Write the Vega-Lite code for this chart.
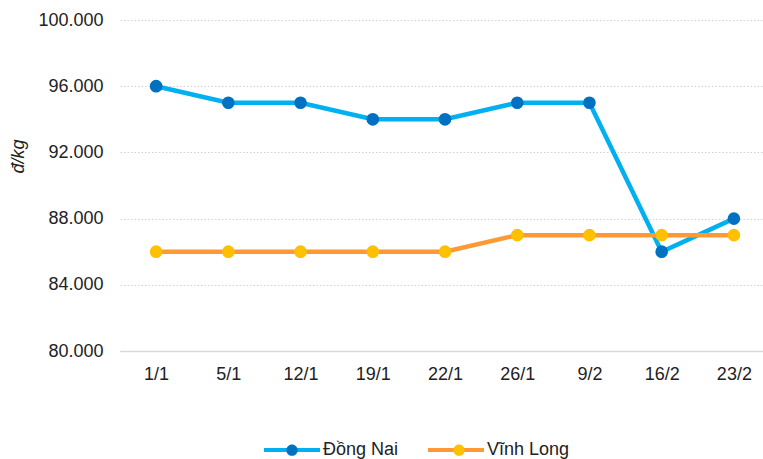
{
  "$schema": "https://vega.github.io/schema/vega-lite/v6.json",
  "autosize": "none",
  "width": 650,
  "height": 331,
  "padding": {"left": 120, "top": 20, "right": 0, "bottom": 108},
  "background": "white",
  "config": {
    "locale": {"number": {"decimal": ",", "thousands": ".", "grouping": [3], "currency": ["", "đ"]}},
    "font": "Liberation Sans",
    "view": {"stroke": null}
  },
  "data": {
    "values": [
      {"date": "1/1", "series": "Đồng Nai", "price": 96000},
      {"date": "5/1", "series": "Đồng Nai", "price": 95000},
      {"date": "12/1", "series": "Đồng Nai", "price": 95000},
      {"date": "19/1", "series": "Đồng Nai", "price": 94000},
      {"date": "22/1", "series": "Đồng Nai", "price": 94000},
      {"date": "26/1", "series": "Đồng Nai", "price": 95000},
      {"date": "9/2", "series": "Đồng Nai", "price": 95000},
      {"date": "16/2", "series": "Đồng Nai", "price": 86000},
      {"date": "23/2", "series": "Đồng Nai", "price": 88000},
      {"date": "1/1", "series": "Vĩnh Long", "price": 86000},
      {"date": "5/1", "series": "Vĩnh Long", "price": 86000},
      {"date": "12/1", "series": "Vĩnh Long", "price": 86000},
      {"date": "19/1", "series": "Vĩnh Long", "price": 86000},
      {"date": "22/1", "series": "Vĩnh Long", "price": 86000},
      {"date": "26/1", "series": "Vĩnh Long", "price": 87000},
      {"date": "9/2", "series": "Vĩnh Long", "price": 87000},
      {"date": "16/2", "series": "Vĩnh Long", "price": 87000},
      {"date": "23/2", "series": "Vĩnh Long", "price": 87000}
    ]
  },
  "encoding": {
    "x": {
      "field": "date", "type": "ordinal",
      "sort": ["1/1", "5/1", "12/1", "19/1", "22/1", "26/1", "9/2", "16/2", "23/2"],
      "scale": {"type": "point", "padding": 0.5},
      "axis": {
        "title": null, "labelAngle": 0, "ticks": false, "grid": false,
        "domain": true, "domainColor": "#d9d9d9", "domainWidth": 1.5,
        "labelFontSize": 18, "labelColor": "#222222", "labelPadding": 14,
        "labelFont": "Liberation Sans"
      }
    },
    "y": {
      "field": "price", "type": "quantitative",
      "scale": {"domain": [80000, 100000], "nice": false, "zero": false},
      "axis": {
        "values": [80000, 84000, 88000, 92000, 96000, 100000],
        "format": ",.0f",
        "title": "đ/kg", "titleFontStyle": "italic", "titleFontWeight": "normal",
        "titleFontSize": 18, "titleColor": "#222222", "titleFont": "Liberation Sans",
        "titleX": -102, "titleY": 136, "titleAngle": -90, "titleAlign": "center", "titleBaseline": "middle",
        "domain": false, "ticks": false,
        "grid": true, "gridColor": "#d0d0d0", "gridDash": [1.5, 2], "gridWidth": 1,
        "labelFontSize": 18, "labelColor": "#222222", "labelPadding": 17,
        "labelFont": "Liberation Sans"
      }
    }
  },
  "layer": [
    {
      "mark": {"type": "line", "strokeWidth": 4.5},
      "encoding": {
        "stroke": {
          "field": "series", "type": "nominal",
          "scale": {"domain": ["Đồng Nai", "Vĩnh Long"], "range": ["#00B0F0", "#FF9933"]},
          "legend": {
            "title": null, "orient": "none", "direction": "horizontal",
            "legendX": 142, "legendY": 400, "padding": 0,
            "symbolType": "stroke", "symbolSize": 3136, "symbolStrokeWidth": 4,
            "labelFontSize": 18, "labelColor": "#222222", "labelFont": "Liberation Sans",
            "labelOffset": 1, "columnPadding": 21
          }
        }
      }
    },
    {
      "mark": {"type": "point", "filled": true, "opacity": 1, "size": 160},
      "encoding": {
        "fill": {
          "field": "series", "type": "nominal",
          "sort": ["Đồng Nai", "Vĩnh Long"],
          "scale": {"range": ["#0070C0", "#FFC000"]},
          "legend": {
            "title": null, "orient": "none", "direction": "horizontal",
            "legendX": 142, "legendY": 400, "padding": 0,
            "symbolType": "M-1,0L1,0M-0.2,0A0.2,0.2 0 1,1 0.2,0A0.2,0.2 0 1,1 -0.2,0Z",
            "symbolSize": 3136, "symbolStrokeWidth": 4, "symbolStrokeColor": "transparent",
            "symbolOpacity": 1,
            "labelExpr": "''",
            "labelFontSize": 18, "labelFont": "Liberation Sans",
            "labelOffset": 1, "columnPadding": 95
          }
        }
      }
    }
  ]
}
